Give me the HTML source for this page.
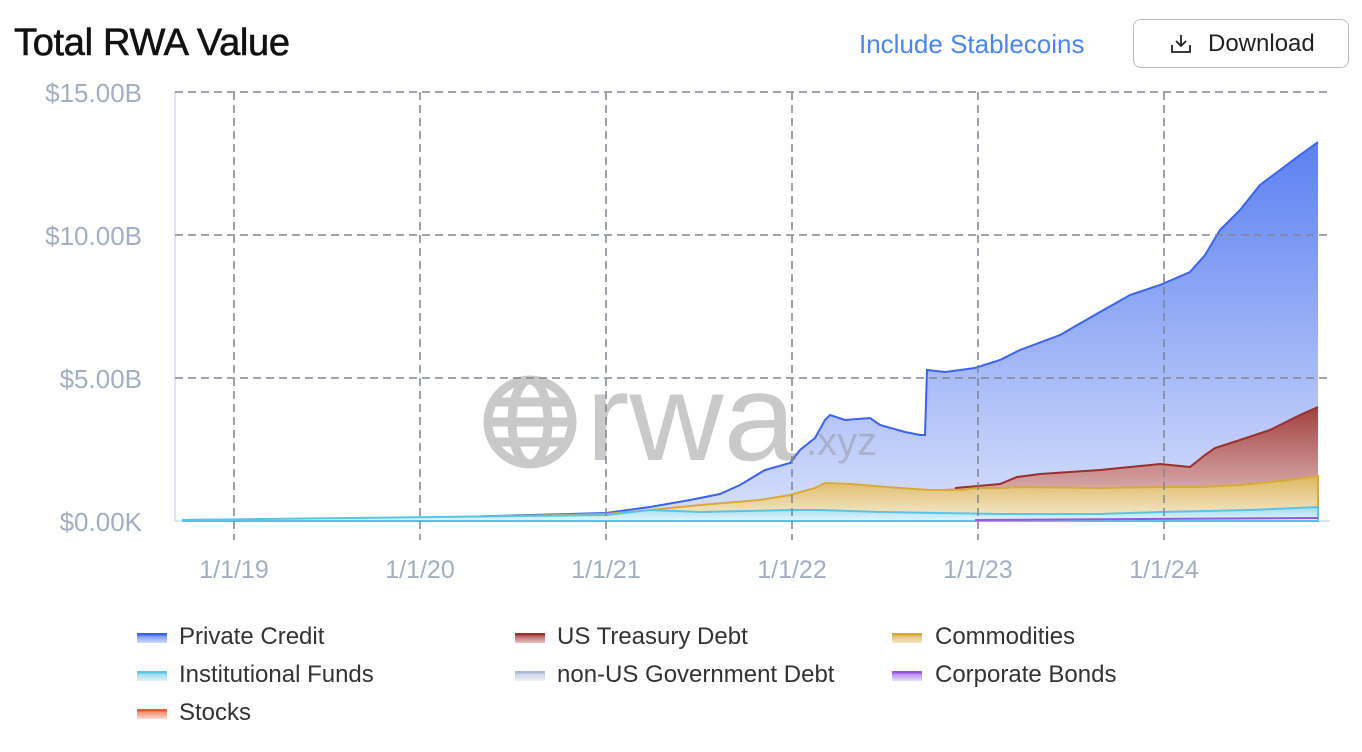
<!DOCTYPE html>
<html><head><meta charset="utf-8"><style>
body{margin:0;background:#fff;font-family:"Liberation Sans",Arial,sans-serif;}
.wrap{position:relative;width:1362px;height:752px;overflow:hidden}
h1{position:absolute;left:14px;top:22px;margin:0;font-size:38px;font-weight:normal;color:#111;letter-spacing:-0.3px;-webkit-text-stroke:0.6px #111}
.inc{position:absolute;left:859px;top:29px;font-size:26px;color:#4a86ee}
.dl{position:absolute;left:1133px;top:19px;width:216px;height:49px;border:1.5px solid #bbb;border-radius:8px;box-sizing:border-box;font-size:24px;color:#222}
.dl span{position:absolute;left:74px;top:10px}
.leg{position:absolute;font-size:24px;color:#333}
.sw{position:absolute;width:30px;height:10px}
</style></head><body><div class="wrap">
<h1>Total RWA Value</h1>
<div class="inc">Include Stablecoins</div>
<div class="dl"><svg style="position:absolute;left:36px;top:14px" width="22" height="20" viewBox="0 0 22 20"><path d="M11 1v11M6 7l5 5 5-5M2 11v7h18v-7" fill="none" stroke="#222" stroke-width="1.8"/></svg><span>Download</span></div>
<svg width="1362" height="752" style="position:absolute;left:0;top:0">
<defs>
<linearGradient id="gb" x1="0" y1="0" x2="0" y2="1"><stop offset="0" stop-color="#5b80f2"/><stop offset="1" stop-color="#d8e0fb"/></linearGradient>
<linearGradient id="gr" x1="0" y1="0" x2="0" y2="1"><stop offset="0" stop-color="#a2413f"/><stop offset="1" stop-color="#ead0d0"/></linearGradient>
<linearGradient id="gy" x1="0" y1="0" x2="0" y2="1"><stop offset="0" stop-color="#dcb760"/><stop offset="1" stop-color="#f6ecd5"/></linearGradient>
<linearGradient id="gc" x1="0" y1="0" x2="0" y2="1"><stop offset="0" stop-color="#9fdcee"/><stop offset="1" stop-color="#e3f5fb"/></linearGradient>
</defs>
<g font-size="26" fill="#a3aec2" text-anchor="end">
<text x="142" y="102">$15.00B</text><text x="142" y="245">$10.00B</text><text x="142" y="388">$5.00B</text><text x="142" y="531">$0.00K</text></g>
<g font-size="25" fill="#a3aec2" text-anchor="middle">
<text x="234" y="578">1/1/19</text><text x="420" y="578">1/1/20</text><text x="606" y="578">1/1/21</text><text x="792" y="578">1/1/22</text><text x="978" y="578">1/1/23</text><text x="1164" y="578">1/1/24</text></g>
<line x1="175" y1="92" x2="175" y2="521" stroke="#d6dce8" stroke-width="1.5"/>
<line x1="175" y1="521" x2="1330" y2="521" stroke="#d6dce8" stroke-width="1.5"/>
<path d="M183,520 L420,518 L606,513 L650,507 L690,500 L720,494 L740,485 L765,470 L790,463 L800,450 L815,438 L825,420 L830,415 L845,420 L870,418 L880,425 L905,432 L920,435 L925,435 L927,370 L945,372 L975,368 L1000,360 L1020,350 L1060,335 L1100,312 L1130,295 L1160,285 L1190,272 L1205,255 L1220,230 L1240,210 L1260,185 L1280,170 L1300,155 L1318,142 L1318,521 L183,521Z" fill="url(#gb)" stroke="none"/>
<path d="M183,520 L420,518 L606,513 L650,507 L690,500 L720,494 L740,485 L765,470 L790,463 L800,450 L815,438 L825,420 L830,415 L845,420 L870,418 L880,425 L905,432 L920,435 L925,435 L927,370 L945,372 L975,368 L1000,360 L1020,350 L1060,335 L1100,312 L1130,295 L1160,285 L1190,272 L1205,255 L1220,230 L1240,210 L1260,185 L1280,170 L1300,155 L1318,142" fill="none" stroke="#3a63ee" stroke-width="2"/>
<path d="M183,520 L420,518 L606,514 L650,510 L700,505 L760,500 L790,495 L815,488 L825,483 L850,484 L900,488 L930,490 L955,488 L978,486 L1000,484 L1017,477 L1040,474 L1100,470 L1140,466 L1160,464 L1190,467 L1205,455 L1215,448 L1240,440 L1270,430 L1300,415 L1318,407 L1318,521 L183,521Z" fill="url(#gr)"/>
<path d="M955,488 L978,486 L1000,484 L1017,477 L1040,474 L1100,470 L1140,466 L1160,464 L1190,467 L1205,455 L1215,448 L1240,440 L1270,430 L1300,415 L1318,407" fill="none" stroke="#9b2f2c" stroke-width="2"/>
<path d="M183,520 L420,518 L606,514 L650,510 L700,505 L760,500 L790,495 L815,488 L825,483 L850,484 L900,488 L930,490 L960,490 L978,488 L1000,488 L1020,487 L1100,488 L1160,487 L1200,487 L1240,485 L1280,481 L1318,476 L1318,521 L183,521Z" fill="url(#gy)" stroke="#d9a93a" stroke-width="2"/>
<path d="M183,520 L606,515 L650,510 L700,512 L790,510 L820,510 L880,512 L1000,514 L1100,514 L1160,512 L1250,510 L1318,507 L1318,521 L183,521Z" fill="url(#gc)" stroke="#5bc3e6" stroke-width="2"/>
<path d="M975,520 L1318,518" stroke="#9a55e0" stroke-width="2"/>
<g stroke="#7f8694" stroke-width="1.8" stroke-dasharray="8,5" opacity="0.85">
<line x1="175" y1="92" x2="1330" y2="92"/><line x1="175" y1="235" x2="1330" y2="235"/><line x1="175" y1="378" x2="1330" y2="378"/>
<line x1="234" y1="92" x2="234" y2="540"/><line x1="420" y1="92" x2="420" y2="540"/><line x1="606" y1="92" x2="606" y2="540"/><line x1="792" y1="92" x2="792" y2="540"/><line x1="978" y1="92" x2="978" y2="540"/><line x1="1164" y1="92" x2="1164" y2="540"/></g>
<g opacity="0.45" fill="none" stroke="#888" stroke-width="9">
<circle cx="530" cy="422" r="42"/><ellipse cx="530" cy="422" rx="18" ry="42"/><line x1="488" y1="422" x2="572" y2="422"/><line x1="493" y1="402" x2="567" y2="402"/><line x1="493" y1="442" x2="567" y2="442"/></g>
<text x="586" y="460" font-size="124" fill="#888" opacity="0.45" textLength="210" lengthAdjust="spacingAndGlyphs">rwa</text>
<text x="806" y="455" font-size="40" fill="#888" opacity="0.4">.xyz</text>
</svg>
<div class="sw" style="left:137px;top:633px;background:linear-gradient(#3a63ee 0,#3a63ee 2px,#7d97f4 3px,#d0dafb)"></div><div class="leg" style="left:179px;top:623px">Private Credit</div>
<div class="sw" style="left:515px;top:633px;background:linear-gradient(#9b2f2c 0,#9b2f2c 2px,#b76563 3px,#e6c6c5)"></div><div class="leg" style="left:557px;top:623px">US Treasury Debt</div>
<div class="sw" style="left:892px;top:633px;background:linear-gradient(#d9a93a 0,#d9a93a 2px,#e2c27a 3px,#f3e5c4)"></div><div class="leg" style="left:935px;top:623px">Commodities</div>
<div class="sw" style="left:137px;top:671px;background:linear-gradient(#5bc3e6 0,#5bc3e6 2px,#9fdcee 3px,#e0f4fa)"></div><div class="leg" style="left:179px;top:661px">Institutional Funds</div>
<div class="sw" style="left:515px;top:671px;background:linear-gradient(#a9bad6 0,#a9bad6 2px,#cbd5e6 3px,#eef1f7)"></div><div class="leg" style="left:557px;top:661px">non-US Government Debt</div>
<div class="sw" style="left:892px;top:671px;background:linear-gradient(#9a55e0 0,#9a55e0 2px,#bb8cef 3px,#eadcfa)"></div><div class="leg" style="left:935px;top:661px">Corporate Bonds</div>
<div class="sw" style="left:137px;top:709px;background:linear-gradient(#ea5a2f 0,#ea5a2f 2px,#f09375 3px,#fbd9cd)"></div><div class="leg" style="left:179px;top:699px">Stocks</div>
</div></body></html>
